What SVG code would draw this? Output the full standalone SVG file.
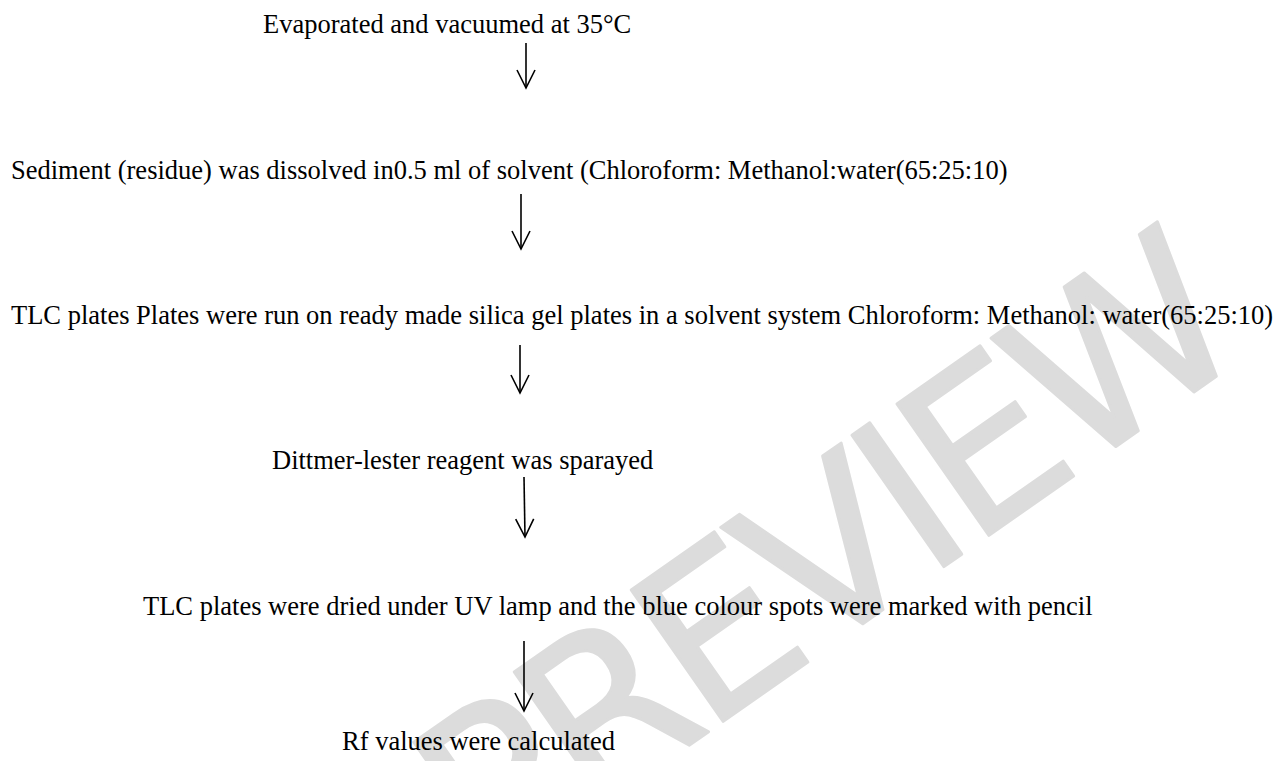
<svg xmlns="http://www.w3.org/2000/svg" width="1282" height="761" viewBox="0 0 1282 761">
  <style>
    .t { font-family: "Liberation Serif", "Times New Roman", serif; font-size: 26.5px; fill: #000; }
    .wm { font-family: "DejaVu Sans", "Noto Sans", sans-serif; font-size: 220px; fill: #dcdcdc; stroke: #dcdcdc; stroke-width: 3; stroke-linejoin: round; letter-spacing: -10px; }
    .c { fill: none; stroke: #000; stroke-width: 1.6; }
  </style>
  <defs>
    <marker id="open" markerUnits="userSpaceOnUse" viewBox="-20 -11 22 22" refX="0" refY="0" markerWidth="22" markerHeight="22" orient="auto">
      <path d="M-18,-9 L0,0 L-18,9" fill="none" stroke="#000" stroke-width="1.6"/>
    </marker>
  </defs>
  <rect width="1282" height="761" fill="#fff"/>
  <g id="watermark">
    <text class="wm" transform="translate(488,886) rotate(-35)">PREVIEW</text>
  </g>
  <g id="n1"><text class="t" x="263" y="33">Evaporated and vacuumed at 35°C</text></g>
  <g id="n2"><text class="t" x="11" y="179">Sediment (residue) was dissolved in0.5 ml of solvent (Chloroform: Methanol:water(65:25:10)</text></g>
  <g id="n3"><text class="t" x="11" y="324">TLC plates Plates were run on ready made silica gel plates in a solvent system Chloroform: Methanol: water(65:25:10)</text></g>
  <g id="n4"><text class="t" x="272" y="469">Dittmer-lester reagent was sparayed</text></g>
  <g id="n5"><text class="t" x="143" y="615">TLC plates were dried under UV lamp and the blue colour spots were marked with pencil</text></g>
  <g id="n6"><text class="t" x="342" y="750">Rf values were calculated</text></g>
  <g id="connectors">
    <path class="c" d="M526,43 L526,88" marker-end="url(#open)"/>
    <path class="c" d="M521,194 L521,249" marker-end="url(#open)"/>
    <path class="c" d="M520,345 L520,393" marker-end="url(#open)"/>
    <path class="c" d="M524,477 L525,537" marker-end="url(#open)"/>
    <path class="c" d="M524,641 L524,711" marker-end="url(#open)"/>
  </g>
</svg>
